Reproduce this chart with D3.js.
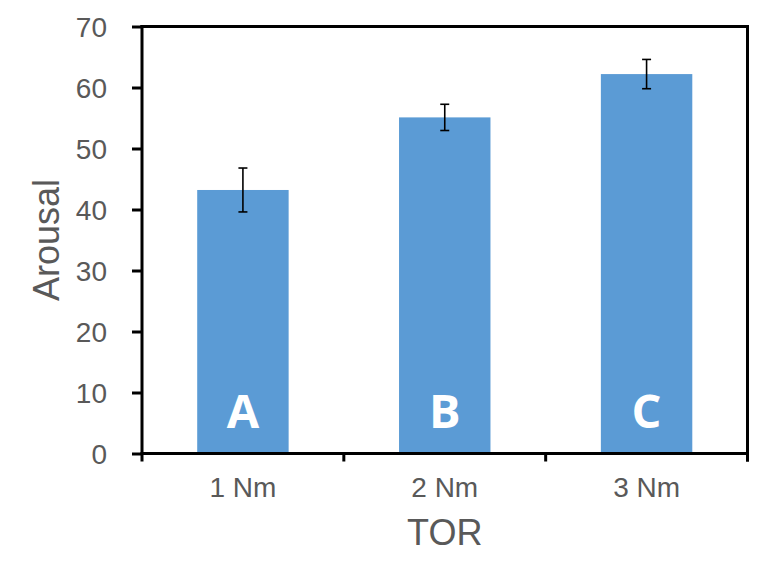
<!DOCTYPE html>
<meta charset="utf-8">
<style>
body {
  margin: 0;
  background: #fff;
}
text {
  font-family: "Liberation Sans", Arial, sans-serif;
}
.axis text {
  fill: #595959;
  font-size: 28px;
}
.axis path, .axis line {
  stroke: black;
  stroke-width: 3;
}
</style>
<body>
<script src="https://cdn.jsdelivr.net/npm/d3@7"></script>
<script>

var width = 771,
    height = 579;

var margin = {top: 26.5, right: 23.5, bottom: 125.5, left: 142};

var categories = ["1 Nm", "2 Nm", "3 Nm"];
var means = [43.2, 55.1, 62.2];
var errors = [3.6, 2.15, 2.4];
var groupLabels = ["A", "B", "C"];
var yTicks = [0, 10, 20, 30, 40, 50, 60, 70];

var data = categories.map(function(c, i) {
  return {cat: c, mean: means[i], err: errors[i], group: groupLabels[i]};
});

var w = width - margin.left - margin.right,
    h = height - margin.top - margin.bottom;

var svg = d3.select("body").append("svg")
    .attr("width", width)
    .attr("height", height)
  .append("g")
    .attr("transform", "translate(" + margin.left + "," + margin.top + ")");

var x = d3.scaleBand()
    .domain(categories)
    .range([0, w])
    .paddingInner(0.547)
    .paddingOuter(0.2735);

var y = d3.scaleLinear()
    .domain([0, 70])
    .range([h, 0]);

// bars
svg.selectAll(".bar")
    .data(data)
  .enter().append("rect")
    .attr("class", "bar")
    .attr("x", function(d) { return x(d.cat); })
    .attr("y", function(d) { return y(d.mean); })
    .attr("width", x.bandwidth())
    .attr("height", function(d) { return h - y(d.mean); })
    .attr("fill", "#5b9bd5");

// error bars
var eb = svg.selectAll(".err")
    .data(data)
  .enter().append("g")
    .attr("class", "err")
    .attr("stroke", "black")
    .attr("stroke-width", 1.6);

eb.append("line")
    .attr("x1", function(d) { return x(d.cat) + x.bandwidth() / 2; })
    .attr("x2", function(d) { return x(d.cat) + x.bandwidth() / 2; })
    .attr("y1", function(d) { return y(d.mean - d.err); })
    .attr("y2", function(d) { return y(d.mean + d.err); });

[-1, 1].forEach(function(s) {
  eb.append("line")
      .attr("x1", function(d) { return x(d.cat) + x.bandwidth() / 2 - 4.5; })
      .attr("x2", function(d) { return x(d.cat) + x.bandwidth() / 2 + 4.5; })
      .attr("y1", function(d) { return y(d.mean + s * d.err); })
      .attr("y2", function(d) { return y(d.mean + s * d.err); });
});

// letters in bars
svg.selectAll(".grp")
    .data(data)
  .enter().append("text")
    .attr("class", "grp")
    .attr("x", function(d) { return x(d.cat) + x.bandwidth() / 2; })
    .attr("y", h - 26)
    .attr("text-anchor", "middle")
    .style("font-family", "'Open Sans', 'Noto Sans', sans-serif")
    .style("font-weight", "bold")
    .style("font-size", "47px")
    .attr("fill", "white")
    .text(function(d) { return d.group; });

// y axis
svg.append("g")
    .attr("class", "axis")
    .call(d3.axisLeft(y).tickValues(yTicks).tickSize(10).tickSizeOuter(0).tickPadding(25))
    .call(function(g) { g.select(".domain").remove(); })
    .call(function(g) { g.selectAll(".tick text").attr("dy", "0.36em"); });

// frame: left, top, right, bottom
var frame = svg.append("g").attr("class", "axis");
frame.append("line").attr("x1", 0).attr("x2", 0).attr("y1", -1.5).attr("y2", h + 1.5);
frame.append("line").attr("x1", -1.5).attr("x2", w + 1.5).attr("y1", 0).attr("y2", 0);
frame.append("line").attr("x1", w).attr("x2", w).attr("y1", -1.5).attr("y2", h + 8);
frame.append("line").attr("x1", -1.5).attr("x2", w + 1.5).attr("y1", h).attr("y2", h);

// x axis ticks at band edges
var gap = (x.step() - x.bandwidth()) / 2;
var edges = categories.map(function(c) { return x(c) - gap; }).concat([w]);
frame.selectAll(".xt")
    .data(edges)
  .enter().append("line")
    .attr("x1", function(d) { return d; })
    .attr("x2", function(d) { return d; })
    .attr("y1", h)
    .attr("y2", h + 8);

var xg = svg.append("g")
    .attr("class", "axis")
    .attr("transform", "translate(0," + h + ")");
xg.selectAll(".xl")
    .data(categories)
  .enter().append("text")
    .attr("x", function(d) { return x(d) + x.bandwidth() / 2; })
    .attr("y", 43)
    .attr("text-anchor", "middle")
    .text(function(d) { return d; });

// axis titles
svg.append("text")
    .attr("x", w / 2)
    .attr("y", h + 91)
    .attr("text-anchor", "middle")
    .attr("fill", "#595959")
    .style("font-size", "36px")
    .text("TOR");

svg.append("text")
    .attr("transform", "translate(" + (-83) + "," + (h / 2) + ") rotate(-90)")
    .attr("text-anchor", "middle")
    .attr("fill", "#595959")
    .style("font-size", "36px")
    .text("Arousal");

</script>
